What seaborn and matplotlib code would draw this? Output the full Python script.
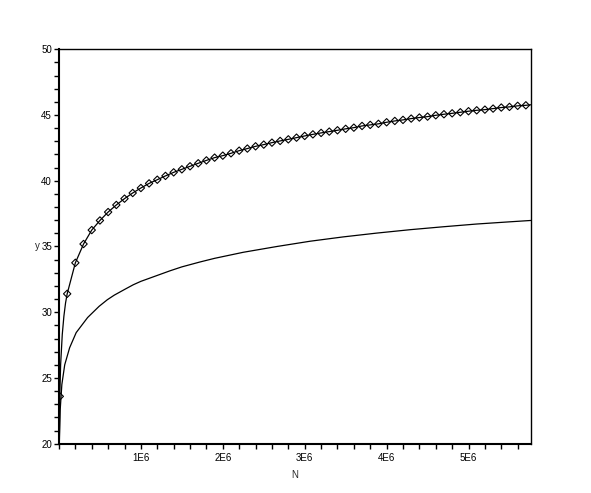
import numpy as np
import matplotlib
matplotlib.use("Agg")
import matplotlib.pyplot as plt
import matplotlib.ticker as mticker
import seaborn as sns

# upper curve, sampled points shown as diamonds (N in units of 1E6)
marker_n = [0.01, 0.1, 0.2, 0.3, 0.4, 0.5, 0.6, 0.7, 0.8, 0.9,
            1.0, 1.1, 1.2, 1.3, 1.4, 1.5, 1.6, 1.7, 1.8, 1.9,
            2.0, 2.1, 2.2, 2.3, 2.4, 2.5, 2.6, 2.7, 2.8, 2.9,
            3.0, 3.1, 3.2, 3.3, 3.4, 3.5, 3.6, 3.7, 3.8, 3.9,
            4.0, 4.1, 4.2, 4.3, 4.4, 4.5, 4.6, 4.7, 4.8, 4.9,
            5.0, 5.1, 5.2, 5.3, 5.4, 5.5, 5.6, 5.7]
marker_y = [23.6, 31.4, 33.76, 35.19, 36.25, 36.98, 37.62, 38.16, 38.64, 39.07,
            39.45, 39.80, 40.08, 40.37, 40.64, 40.87, 41.10, 41.33, 41.55, 41.76,
            41.91, 42.09, 42.29, 42.45, 42.62, 42.75, 42.90, 43.03, 43.15, 43.28,
            43.41, 43.53, 43.64, 43.74, 43.84, 43.95, 44.04, 44.17, 44.25, 44.33,
            44.45, 44.55, 44.63, 44.73, 44.81, 44.88, 44.98, 45.06, 45.13, 45.21,
            45.29, 45.36, 45.41, 45.49, 45.57, 45.62, 45.70, 45.74]

# extra points of the upper solid line near N=0 and at the right edge
upper_head_n = [0.002, 0.01, 0.02, 0.04, 0.06, 0.08]
upper_head_y = [19.0, 23.6, 26.0, 28.3, 29.7, 30.7]
upper_tail_n = [5.76]
upper_tail_y = [45.78]

# lower curve (solid line only)
lower_n = [0.002, 0.015, 0.035, 0.07, 0.13, 0.21, 0.35, 0.49, 0.59, 0.675,
           0.806, 0.907, 1.0, 1.355, 1.5, 1.72, 1.9, 2.25, 2.66, 3.065,
           3.47, 3.88, 4.29, 4.69, 5.10, 5.51, 5.76]
lower_y = [19.5, 22.6, 24.5, 26.0, 27.3, 28.45, 29.6, 30.45, 30.95, 31.3,
           31.75, 32.09, 32.35, 33.15, 33.45, 33.82, 34.1, 34.56, 35.0, 35.4,
           35.73, 36.02, 36.28, 36.5, 36.71, 36.88, 36.98]

x_max = 5.763e6


def main():
    sns.set_theme(style="ticks")
    plt.rcParams['font.family'] = ['Liberation Sans', 'DejaVu Sans']

    fig = plt.figure(figsize=(5.91, 4.93), dpi=100)
    ax = fig.add_axes([0.0998, 0.100, 0.7987, 0.800])

    up_n = np.array(upper_head_n + marker_n[1:] + upper_tail_n) * 1e6
    up_y = upper_head_y + marker_y[1:] + upper_tail_y

    sns.lineplot(x=up_n, y=up_y, color='black', linewidth=0.9,
                 sort=False, estimator=None, ax=ax)
    sns.lineplot(x=np.array(lower_n) * 1e6, y=lower_y, color='black',
                 linewidth=0.9, sort=False, estimator=None, ax=ax)
    sns.scatterplot(x=np.array(marker_n) * 1e6, y=marker_y, marker='D', s=14,
                    facecolor='none', edgecolor='black', linewidth=0.8,
                    zorder=3, ax=ax)

    ax.set_xlim(0, x_max)
    ax.set_ylim(20, 50)

    ax.xaxis.set_major_locator(mticker.FixedLocator([1e6, 2e6, 3e6, 4e6, 5e6]))
    ax.xaxis.set_major_formatter(mticker.FuncFormatter(lambda v, p: f"{int(round(v / 1e6))}E6"))
    ax.xaxis.set_minor_locator(mticker.MultipleLocator(2e5))
    ax.yaxis.set_major_locator(mticker.MultipleLocator(5))
    ax.yaxis.set_minor_locator(mticker.MultipleLocator(1))

    ax.tick_params(axis='both', which='both', direction='out', length=3.5,
                   width=1.0, color='black', labelsize=7, labelcolor='black')
    ax.tick_params(axis='y', which='both', pad=1.5)
    ax.tick_params(axis='x', which='both', pad=3)

    for side in ['left', 'bottom']:
        ax.spines[side].set_linewidth(1.5)
        ax.spines[side].set_color('black')
    for side in ['top', 'right']:
        ax.spines[side].set_visible(True)
        ax.spines[side].set_linewidth(1.0)
        ax.spines[side].set_color('black')

    ax.set_xlabel('N', fontsize=7)
    ax.set_ylabel('y', fontsize=7, rotation=0, ha='center', va='center')
    ax.xaxis.set_label_coords(0.5, -0.067)
    ax.yaxis.set_label_coords(-0.0466, 0.501)

    fig.savefig("out.png", dpi=100, facecolor='white')


if __name__ == "__main__":
    main()
